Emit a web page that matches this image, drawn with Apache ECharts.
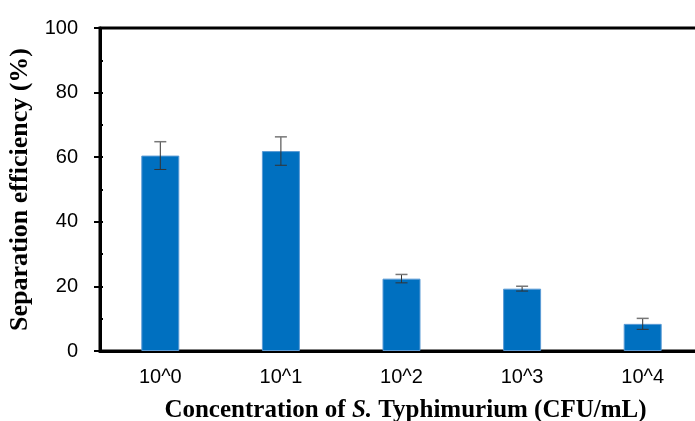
<!DOCTYPE html>
<html>
<head>
<meta charset="utf-8">
<script src="https://cdn.jsdelivr.net/npm/echarts@6/dist/echarts.min.js"></script>
<style>html,body{margin:0;padding:0;background:#fff;}#c{width:695px;height:421px;}</style>
</head>
<body>
<div id="c"></div>
<script>
var categories = ['10^0', '10^1', '10^2', '10^3', '10^4'];
var efficiency = [60.5, 61.9, 22.4, 19.3, 8.4];
var errors = [4.3, 4.4, 1.3, 0.75, 1.7];
var yTicks = [0, 20, 40, 60, 80, 100];

var chart = echarts.init(document.getElementById('c'));
var errData = categories.map(function (c, i) {
  return [i, efficiency[i] - errors[i], efficiency[i] + errors[i]];
});
chart.setOption({
  backgroundColor: '#fff',
  animation: false,
  grid: { left: 100, top: 28, bottom: 70, right: -8, containLabel: false, outerBoundsMode: 'none', show: true, borderColor: '#000', borderWidth: 3, backgroundColor: 'transparent' },
  xAxis: {
    type: 'category',
    data: categories,
    axisLine: { lineStyle: { color: '#000', width: 3 } },
    axisTick: { show: true, inside: true, alignWithLabel: true, length: 4, lineStyle: { color: '#000', width: 2 } },
    axisLabel: { color: '#000', fontFamily: 'Liberation Sans', fontSize: 20, margin: 16 },
    name: 'Concentration of {i|S.} Typhimurium (CFU/mL)',
    nameLocation: 'middle',
    nameGap: 47,
    nameTextStyle: {
      color: '#000', fontFamily: 'Liberation Serif', fontWeight: 'bold', fontSize: 25,
      padding: [0, 0, 0, 8],
      rich: { i: { fontStyle: 'italic', fontWeight: 'bold', fontFamily: 'Liberation Serif', fontSize: 25, color: '#000' } }
    }
  },
  yAxis: [{
    type: 'value', min: yTicks[0], max: yTicks[yTicks.length - 1], interval: 20,
    splitLine: { show: false },
    axisLine: { show: true, lineStyle: { color: '#000', width: 3 } },
    axisTick: { show: true, length: 6, lineStyle: { color: '#000', width: 2 } },
    axisLabel: { color: '#000', fontFamily: 'Liberation Sans', fontSize: 20, margin: 22 },
    name: 'Separation efficiency (%)',
    nameLocation: 'middle',
    nameGap: 61,
    nameTextStyle: { color: '#000', fontFamily: 'Liberation Serif', fontWeight: 'bold', fontSize: 26 }
  }, {
    type: 'value', min: 0, max: 100, interval: 10, position: 'left',
    splitLine: { show: false },
    axisLine: { show: false },
    axisLabel: { show: false },
    axisTick: { show: true, inside: true, length: 3, lineStyle: { color: '#000', width: 2 } }
  }],
  series: [{
    type: 'bar',
    data: efficiency,
    barWidth: 38,
    itemStyle: { color: '#0070C0', borderColor: '#5B9BD5', borderWidth: 1 }
  }, {
    type: 'custom',
    data: errData,
    z: 10,
    renderItem: function (params, api) {
      var x = api.value(0);
      var lo = api.coord([x, api.value(1)]);
      var hi = api.coord([x, api.value(2)]);
      var hw = 6;
      var st = { stroke: '#333', lineWidth: 1 };
      return {
        type: 'group',
        children: [
          { type: 'line', shape: { x1: lo[0], y1: lo[1], x2: hi[0], y2: hi[1] }, style: st },
          { type: 'line', shape: { x1: lo[0] - hw, y1: lo[1], x2: lo[0] + hw, y2: lo[1] }, style: st },
          { type: 'line', shape: { x1: hi[0] - hw, y1: hi[1], x2: hi[0] + hw, y2: hi[1] }, style: { stroke: '#777', lineWidth: 1.5 } }
        ]
      };
    }
  }]
});
</script>
</body>
</html>
